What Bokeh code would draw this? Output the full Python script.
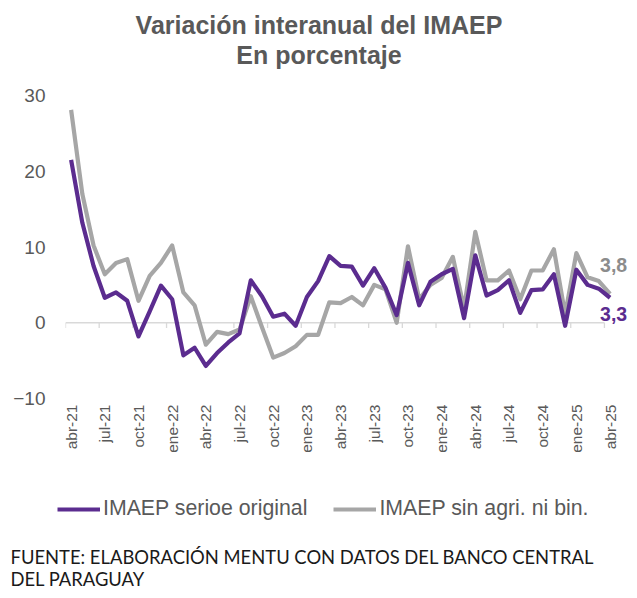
import math
from bokeh.plotting import figure
from bokeh.layouts import column
from bokeh.models import (ColumnDataSource, FixedTicker, Label, Legend, LegendItem, Range1d)
from bokeh.embed import file_html
from bokeh.resources import INLINE

# ---------------- data ----------------
tick_labels = ["abr-21", "jul-21", "oct-21", "ene-22", "abr-22", "jul-22", "oct-22",
               "ene-23", "abr-23", "jul-23", "oct-23", "ene-24", "abr-24", "jul-24",
               "oct-24", "ene-25", "abr-25"]

imaep_original = [21.5, 13.2, 7.5, 3.3, 4.0, 2.9, -1.8, 1.5, 4.9, 3.1,
                  -4.3, -3.3, -5.7, -4.0, -2.6, -1.4, 5.6, 3.5, 0.8, 1.2,
                  -0.4, 3.4, 5.5, 8.8, 7.5, 7.4, 4.9, 7.2, 4.6, 1.0,
                  7.9, 2.3, 5.4, 6.4, 7.1, 0.6, 8.9, 3.6, 4.3, 5.6,
                  1.3, 4.3, 4.4, 6.4, -0.4, 7.0, 5.0, 4.5, 3.3]

imaep_sin_agri = [28.1, 17.0, 10.2, 6.4, 7.9, 8.4, 2.9, 6.2, 7.9, 10.2,
                  4.0, 2.3, -2.9, -1.2, -1.5, -0.9, 3.5, -0.6, -4.6, -4.0,
                  -3.1, -1.6, -1.6, 2.7, 2.6, 3.4, 2.3, 5.0, 4.4, 0.0,
                  10.1, 3.1, 5.0, 5.9, 8.7, 1.9, 12.0, 5.6, 5.6, 6.9,
                  3.1, 6.9, 6.9, 9.7, 1.1, 9.2, 6.0, 5.5, 3.8]

series_names = ["IMAEP serioe original", "IMAEP sin agri. ni bin."]
y_ticks = [-10, 0, 10, 20, 30]

title_lines = ["Variación interanual del IMAEP", "En porcentaje"]
footer_lines = ["FUENTE: ELABORACIÓN MENTU CON DATOS DEL BANCO CENTRAL", "DEL PARAGUAY"]

# ---------------- style ----------------
PURPLE = "#5B2C8F"
GRAY = "#A6A6A6"
TEXT = "#595959"
AXIS = "#D9D9D9"
FONT = "Liberation Sans"
W = 637
H0, H1, H2 = 80, 380, 138

n = len(imaep_original)
x_idx = list(range(n))
tick_pos = list(range(0, n, 3))
src = ColumnDataSource(dict(x=x_idx, orig=imaep_original, sin=imaep_sin_agri))


def blank(height):
    f = figure(width=W, height=height, output_backend="svg", toolbar_location=None,
               x_range=Range1d(0, W), y_range=Range1d(0, height),
               x_axis_type=None, y_axis_type=None,
               min_border_left=0, min_border_right=0, min_border_top=0, min_border_bottom=0,
               frame_align=False,
               outline_line_color=None, background_fill_color="white",
               border_fill_color="white")
    f.xgrid.visible = False
    f.ygrid.visible = False
    return f


# ---------------- title panel ----------------
p0 = blank(H0)
for txt, py in zip(title_lines, [24, 54]):
    p0.add_layout(Label(x=W / 2, y=H0 - py, text=txt, text_align="center",
                        text_baseline="middle", text_font=FONT, text_font_style="bold",
                        text_font_size="25px", text_color=TEXT))

# ---------------- chart ----------------
XMIN, XMAX = -0.5, 50.0
p = figure(width=W, height=H1, output_backend="svg", toolbar_location=None,
           x_range=Range1d(XMIN, XMAX), y_range=Range1d(-10, 30),
           min_border_left=65, min_border_right=5,
           min_border_top=15, min_border_bottom=62, frame_align=False,
           outline_line_color=None, background_fill_color="white",
           border_fill_color="white")
p.xgrid.visible = False
p.ygrid.visible = False

p.xaxis.ticker = FixedTicker(ticks=tick_pos)
p.xaxis.major_label_overrides = {k: lab for k, lab in zip(tick_pos, tick_labels)}
p.xaxis.major_label_orientation = math.pi / 2
p.xaxis.axis_line_color = None
p.xaxis.major_tick_line_color = None
p.xaxis.minor_tick_line_color = None
p.xaxis.major_tick_out = 0
p.xaxis.major_tick_in = 0
p.xaxis.major_label_standoff = 6
p.xaxis.major_label_text_font = FONT
p.xaxis.major_label_text_font_size = "15.5px"
p.xaxis.major_label_text_color = TEXT

p.yaxis.ticker = FixedTicker(ticks=y_ticks)
p.yaxis.axis_line_color = None
p.yaxis.major_tick_line_color = None
p.yaxis.minor_tick_line_color = None
p.yaxis.major_tick_out = 0
p.yaxis.major_tick_in = 0
p.yaxis.major_label_standoff = 20
p.yaxis.major_label_text_font = FONT
p.yaxis.major_label_text_font_size = "19px"
p.yaxis.major_label_text_color = TEXT

# zero line with category tick marks
bounds = [t - 0.5 for t in tick_pos]
p.segment(x0=[bounds[0]], y0=[0], x1=[bounds[-1]], y1=[0], line_color=AXIS, line_width=1.3)
p.segment(x0=bounds, y0=[0] * len(bounds), x1=bounds, y1=[-0.7] * len(bounds),
          line_color=AXIS, line_width=1.3)

p.line("x", "sin", source=src, line_color=GRAY, line_width=4.2, line_join="round")
p.line("x", "orig", source=src, line_color=PURPLE, line_width=4.2, line_join="round")


def fmt(v):
    return f"{v:.1f}".replace(".", ",")


p.add_layout(Label(x=n - 1, y=imaep_sin_agri[-1], text=fmt(imaep_sin_agri[-1]),
                   x_offset=-10, y_offset=29, text_baseline="middle", text_align="left",
                   text_font=FONT, text_font_style="bold", text_font_size="19.5px",
                   text_color="#8C8C8C"))
p.add_layout(Label(x=n - 1, y=imaep_original[-1], text=fmt(imaep_original[-1]),
                   x_offset=-10, y_offset=-16, text_baseline="middle", text_align="left",
                   text_font=FONT, text_font_style="bold", text_font_size="19.5px",
                   text_color=PURPLE))

# ---------------- legend + footer ----------------
p2 = blank(H2)
l_orig = p2.line("x", "orig", source=src, line_color=PURPLE, line_width=4.2, visible=False)
l_sin = p2.line("x", "sin", source=src, line_color=GRAY, line_width=4.2, visible=False)
legend = Legend(items=[LegendItem(label=series_names[0], renderers=[l_orig]),
                       LegendItem(label=series_names[1], renderers=[l_sin])],
                orientation="horizontal", location=(57, 77),
                label_text_font=FONT, label_text_font_size="21.3px", label_text_color=TEXT,
                glyph_width=43, glyph_height=22, label_height=22, label_standoff=3,
                spacing=26, padding=0, margin=0, border_line_color=None,
                background_fill_alpha=0, inactive_fill_alpha=0)
p2.add_layout(legend, "center")

for txt, py in zip(footer_lines, [96, 118]):
    p2.add_layout(Label(x=10, y=H2 - py, text=txt, text_align="left",
                        text_baseline="middle", text_font="Lato",
                        text_font_size="18.4px", text_color="#1A1A1A"))

layout = column(p0, p, p2, spacing=0)
open("out.html", "w").write(file_html(layout, INLINE))
